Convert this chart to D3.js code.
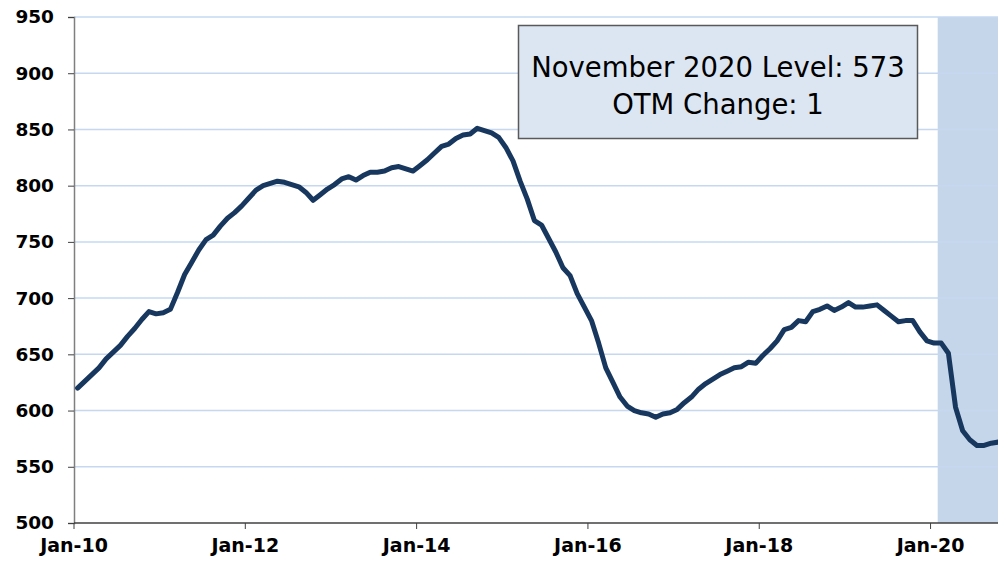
<!DOCTYPE html>
<html>
<head>
<meta charset="utf-8">
<script src="https://cdn.jsdelivr.net/npm/d3@7"></script>
<style>
  html, body { margin: 0; padding: 0; background: #fff; }
  svg { display: block; }
</style>
</head>
<body>
<script>
// monthly level, Jan 2010 .. Nov 2020
var values = [
  620, 626, 632, 638, 646, 652, 658, 666, 673, 681,
  688, 686, 687, 690, 705, 721, 732, 743, 752, 756,
  764, 771, 776, 782, 789, 796, 800, 802, 804, 803,
  801, 799, 794, 787, 792, 797, 801, 806, 808, 805,
  809, 812, 812, 813, 816, 817, 815, 813, 818, 823,
  829, 835, 837, 842, 845, 846, 851, 849, 847, 843,
  834, 822, 804, 788, 769, 765, 753, 741, 727, 720,
  704, 692, 680, 660, 638, 625, 612, 604, 600, 598,
  597, 594, 597, 598, 601, 607, 612, 619, 624, 628,
  632, 635, 638, 639, 643, 642, 649, 655, 662, 672,
  674, 680, 679, 688, 690, 693, 689, 692, 696, 692,
  692, 693, 694, 689, 684, 679, 680, 680, 670, 662,
  660, 660, 651, 603, 582, 574, 569, 569, 571, 572,
  573
];
var months = d3.timeMonth.range(new Date(2010, 0, 1), new Date(2020, 11, 1));
var tickLabels = ['Jan-10', 'Jan-12', 'Jan-14', 'Jan-16', 'Jan-18', 'Jan-20'];
var yTicks = [500, 550, 600, 650, 700, 750, 800, 850, 900, 950];
var shadeStart = 'Feb-20';
var boxLines = ['November 2020 Level: 573', 'OTM Change: 1'];

var width = 998, height = 561;
var plotLeft = 74, plotTop = 17, plotBottom = 523;
var step = 7.138;

var fmt = d3.timeFormat('%b-%y');
var data = months.map(function (m, i) { return { label: fmt(m), value: values[i] }; });

var x = d3.scaleBand()
  .domain(data.map(function (d) { return d.label; }))
  .range([plotLeft, plotLeft + data.length * step])
  .paddingInner(0).paddingOuter(0);
var y = d3.scaleLinear().domain([500, 950]).range([plotBottom, plotTop]);

var svg = d3.select('body').append('svg').attr('width', width).attr('height', height);

// recession shading
svg.append('rect')
  .attr('x', x(shadeStart))
  .attr('y', plotTop)
  .attr('width', width - x(shadeStart))
  .attr('height', plotBottom - plotTop)
  .attr('fill', '#c6d6ea');

// gridlines
svg.append('g').selectAll('line')
  .data(yTicks.slice(1))
  .enter().append('line')
  .attr('x1', plotLeft).attr('x2', width)
  .attr('y1', function (d) { return y(d); })
  .attr('y2', function (d) { return y(d); })
  .attr('stroke', '#c5d8f0')
  .attr('stroke-width', 1.5);

// y axis
var yAxis = svg.append('g')
  .attr('transform', 'translate(' + plotLeft + ',0)')
  .call(d3.axisLeft(y).tickValues(yTicks).tickSize(6).tickPadding(14).tickFormat(d3.format('d')));
yAxis.select('.domain').attr('stroke', '#7f7f7f').attr('stroke-width', 1.5);
yAxis.selectAll('.tick line').attr('stroke', '#404040').attr('stroke-width', 1);
yAxis.selectAll('.tick text')
  .attr('fill', '#000')
  .style('font-family', '"DejaVu Sans", Verdana, sans-serif')
  .style('font-weight', 'bold')
  .style('font-size', '18.5px');

// x axis
svg.append('line')
  .attr('x1', plotLeft).attr('x2', width)
  .attr('y1', plotBottom).attr('y2', plotBottom)
  .attr('stroke', '#404040').attr('stroke-width', 1.5);
var xt = svg.append('g').selectAll('g')
  .data(tickLabels)
  .enter().append('g')
  .attr('transform', function (d) { return 'translate(' + x(d) + ',' + plotBottom + ')'; });
xt.append('line').attr('y1', 0).attr('y2', 6).attr('stroke', '#404040');
xt.append('text')
  .attr('y', 29)
  .attr('text-anchor', 'middle')
  .style('font-family', '"DejaVu Sans", Verdana, sans-serif')
  .style('font-weight', 'bold')
  .style('font-size', '19px')
  .text(function (d) { return d; });

// line
var line = d3.line()
  .x(function (d) { return x(d.label) + x.bandwidth() / 2; })
  .y(function (d) { return y(d.value); });
svg.append('path')
  .datum(data)
  .attr('d', line)
  .attr('fill', 'none')
  .attr('stroke', '#17375e')
  .attr('stroke-width', 5)
  .attr('stroke-linejoin', 'round')
  .attr('stroke-linecap', 'round');

// text box
svg.append('rect')
  .attr('x', 518.5).attr('y', 25.5)
  .attr('width', 399).attr('height', 113)
  .attr('fill', '#dce6f2')
  .attr('stroke', '#595959')
  .attr('stroke-width', 1.5);
svg.append('g').selectAll('text')
  .data(boxLines)
  .enter().append('text')
  .attr('x', 718)
  .attr('y', function (d, i) { return 77 + i * 37; })
  .attr('text-anchor', 'middle')
  .style('font-family', '"DejaVu Sans", Verdana, sans-serif')
  .style('font-size', '27.5px')
  .attr('fill', '#000')
  .text(function (d) { return d; });
</script>
</body>
</html>
